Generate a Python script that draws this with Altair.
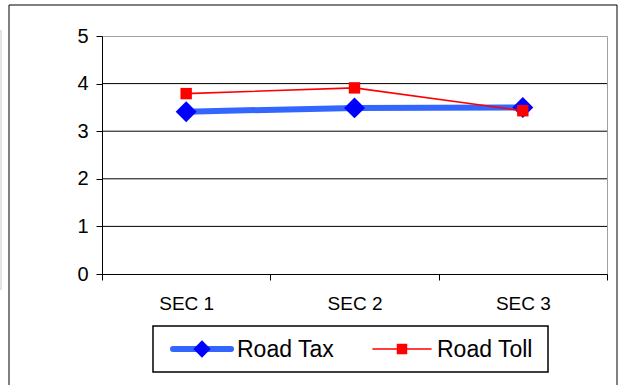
import altair as alt
import pandas as pd

# Survey scores per section
sections = ["SEC 1", "SEC 2", "SEC 3"]
road_tax = [3.41, 3.49, 3.50]
road_toll = [3.79, 3.91, 3.43]
series_names = ["Road Tax", "Road Toll"]
y_ticks = [0, 1, 2, 3, 4, 5]
grid_values = [1, 2, 3, 4]

W, H = 505, 238
FONT = "Liberation Sans"
TAX_LINE, TAX_MARK = "#3366FF", "#0000FF"
TOLL = "#FF0000"

df = pd.DataFrame({
    "section": sections * 2,
    "value": road_tax + road_toll,
    "series": [series_names[0]] * len(sections) + [series_names[1]] * len(sections),
})

x_axis = alt.Axis(title=None, labelAngle=0, tickBand="extent", tickSize=6,
                  labelPadding=14, labelFontSize=19, grid=False, zindex=2)
y_axis = alt.Axis(title=None, values=y_ticks, tickSize=6, labelPadding=8,
                  labelFontSize=20, grid=False, zindex=2)

x_enc = alt.X(
    "section:N",
    sort=sections,
    scale=alt.Scale(type="band", paddingInner=0, paddingOuter=0),
    axis=x_axis,
)
y_scale = alt.Scale(domain=[0, 5], nice=False)
y_enc = alt.Y("value:Q", scale=y_scale, axis=y_axis)

base = alt.Chart(df).encode(x=x_enc, y=y_enc)
tax = base.transform_filter(alt.datum.series == series_names[0])
toll = base.transform_filter(alt.datum.series == series_names[1])

tax_line = tax.mark_line(color=TAX_LINE, strokeWidth=6)
tax_pts = tax.mark_point(shape="diamond", filled=True, color=TAX_MARK, size=440, opacity=1)
toll_line = toll.mark_line(color=TOLL, strokeWidth=1.6)
toll_pts = toll.mark_point(shape="square", filled=True, color=TOLL, size=130, opacity=1)

# Horizontal gridlines inside the plot
grid = alt.Chart(pd.DataFrame({"v": grid_values})).mark_rule(color="black", strokeWidth=1).encode(
    y=alt.Y("v:Q", scale=y_scale, axis=y_axis)
)

one = pd.DataFrame({"k": [0]})

def hline(x0, x1, y, color="black", w=1):
    return alt.Chart(one).mark_rule(color=color, strokeWidth=w).encode(
        x=alt.value(x0), x2=alt.value(x1), y=alt.value(y))

def vline(x, y0, y1, color="black", w=1):
    return alt.Chart(one).mark_rule(color=color, strokeWidth=w).encode(
        x=alt.value(x), y=alt.value(y0), y2=alt.value(y1))

# Outer frame of the chart object
frame = alt.layer(
    hline(-93, 515, -31),
    vline(-93, -31, 349),
    vline(515, -31, 349),
    vline(-101, -6, 254, color="#C8C8C8"),
)

# Legend box with line + marker samples
leg_y = 313
legend_box = alt.Chart(one).mark_rect(fill="white", stroke="black", strokeWidth=1.5).encode(
    x=alt.value(51), x2=alt.value(446), y=alt.value(290), y2=alt.value(336))

names = pd.DataFrame({"series": series_names})

def legend_entry(name, x0, line_color, line_w, shape, mark_color, size):
    src = alt.Chart(names).transform_filter(alt.datum.series == name)
    line = src.mark_rule(color=line_color, strokeWidth=line_w, strokeCap="round").encode(
        x=alt.value(x0), x2=alt.value(x0 + 58), y=alt.value(leg_y))
    mark = src.mark_point(shape=shape, filled=True, color=mark_color, size=size, opacity=1).encode(
        x=alt.value(x0 + 29), y=alt.value(leg_y))
    label = src.mark_text(align="left", baseline="middle", font=FONT, fontSize=23, color="black").encode(
        x=alt.value(x0 + 64), y=alt.value(leg_y + 1), text="series:N")
    return alt.layer(line, mark, label)

legend = alt.layer(
    legend_box,
    legend_entry(series_names[0], 71, TAX_LINE, 6, "diamond", TAX_MARK, 300),
    legend_entry(series_names[1], 271, TOLL, 1.6, "square", TOLL, 110),
)

chart = alt.layer(
    grid, tax_line, tax_pts, toll_line, toll_pts, frame, legend
).properties(
    width=W, height=H,
    autosize=alt.AutoSizeParams(type="none"),
    padding={"left": 102, "top": 36, "right": 16, "bottom": 111},
    background="white",
).configure_view(
    stroke="#A0A0A0", strokeWidth=1
).configure_axis(
    domainColor="black", tickColor="black", labelColor="black",
    labelFont=FONT, domainWidth=1, tickWidth=1,
)

chart.save("out.html", embed_options={"renderer": "svg", "actions": False})
